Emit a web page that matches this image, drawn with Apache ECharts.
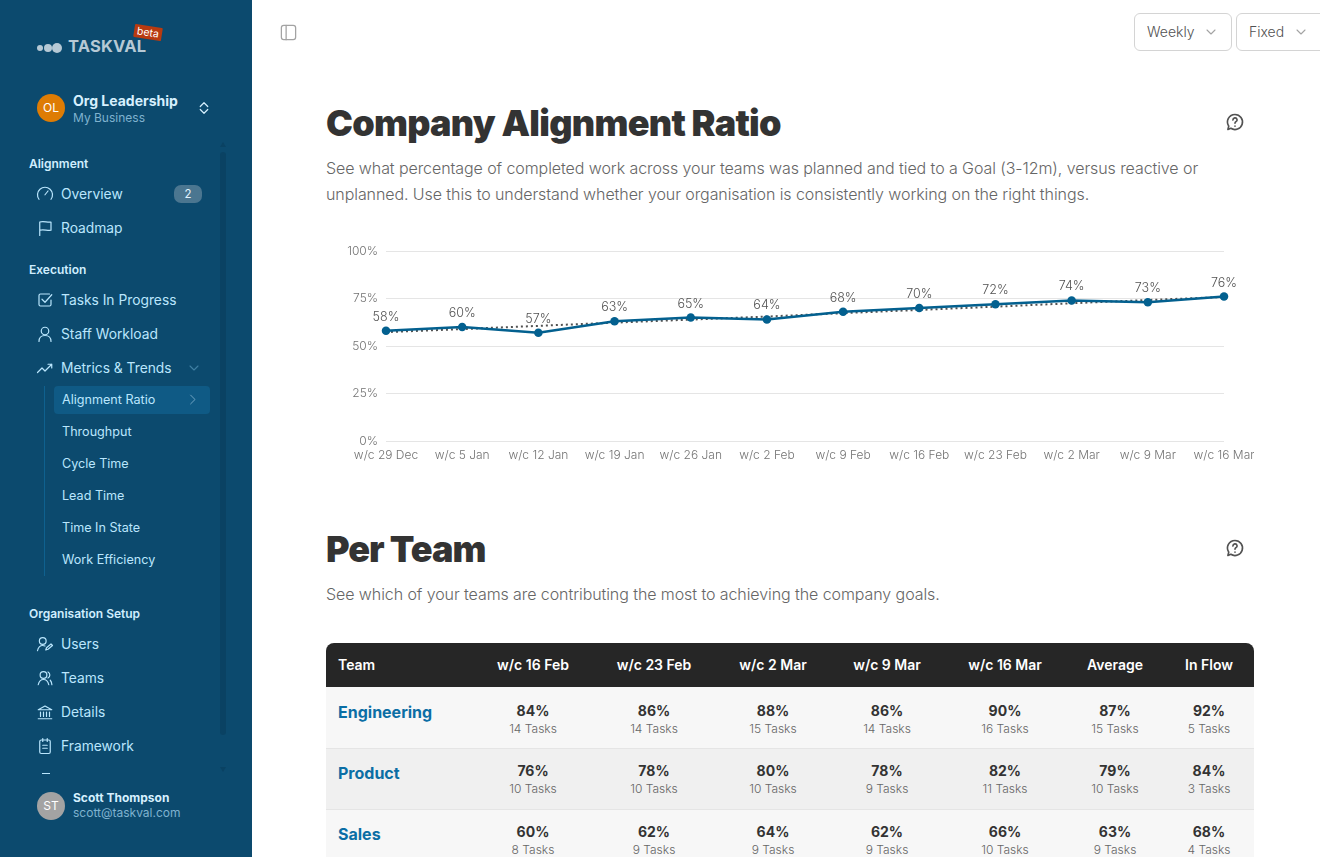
<!DOCTYPE html>
<html><head><meta charset="utf-8">
<script src="https://cdn.jsdelivr.net/npm/echarts@6/dist/echarts.min.js"></script>
<style>
html,body{margin:0;padding:0;width:1320px;height:857px;overflow:hidden;background:#fff;font-family:Inter,sans-serif;color:#262626}
.a{position:absolute;white-space:nowrap}
#side{position:absolute;left:0;top:0;width:252px;height:857px;background:#0c4a6e;overflow:hidden}
.ct{transform:translateX(-50%);text-align:center}
svg.i{position:absolute;fill:none;stroke:#bae6fd;stroke-width:1.6;stroke-linecap:round;stroke-linejoin:round}
.btn{position:absolute;top:13px;height:36px;border:1px solid #d4d4d4;border-radius:6px;background:#fff;font-size:14px;font-weight:300;color:#525252;line-height:36px;box-sizing:content-box}
</style></head><body>
<div id="side"></div>
<div id="main"></div>
<div id="chart" style="position:absolute;left:326px;top:235px;width:928px;height:235px"></div>
<script>
const weeks=['w/c 29 Dec','w/c 5 Jan','w/c 12 Jan','w/c 19 Jan','w/c 26 Jan','w/c 2 Feb','w/c 9 Feb','w/c 16 Feb','w/c 23 Feb','w/c 2 Mar','w/c 9 Mar','w/c 16 Mar'];
const ratio=[58,60,57,63,65,64,68,70,72,74,73,76];
const trend=[57.3,58.9,60.6,62.3,63.9,65.5,67.3,69,70.7,72.5,74.2,75.8];
const yTicks=[0,25,50,75,100];
const tableHead=['w/c 16 Feb','w/c 23 Feb','w/c 2 Mar','w/c 9 Mar','w/c 16 Mar','Average','In Flow'];
const engineering=[['84%','14 Tasks'],['86%','14 Tasks'],['88%','15 Tasks'],['86%','14 Tasks'],['90%','16 Tasks'],['87%','15 Tasks'],['92%','5 Tasks']];
const product=[['76%','10 Tasks'],['78%','10 Tasks'],['80%','10 Tasks'],['78%','9 Tasks'],['82%','11 Tasks'],['79%','10 Tasks'],['84%','3 Tasks']];
const sales=[['60%','8 Tasks'],['62%','9 Tasks'],['64%','9 Tasks'],['62%','9 Tasks'],['66%','10 Tasks'],['63%','9 Tasks'],['68%','4 Tasks']];
const colX=[533,654,773,887,1005,1115,1209];

function t(par,x,y,s,style,cls){const d=document.createElement('div');d.className='a '+(cls||'');d.style.cssText=`left:${x}px;top:${y}px;`+style;d.textContent=s;par.appendChild(d);return d}
function box(par,x,y,w,h,style){const d=document.createElement('div');d.className='a';d.style.cssText=`left:${x}px;top:${y}px;width:${w}px;height:${h}px;`+style;par.appendChild(d);return d}
function ic(par,x,y,inner,size,extra){const s=size||18;par.insertAdjacentHTML('beforeend',`<svg class="i" style="left:${x}px;top:${y}px;${extra||''}" width="${s}" height="${s}" viewBox="0 0 24 24">${inner}</svg>`)}

// Sidebar
const S=document.getElementById('side');
[[39.5,3],[47.5,4],[57,5]].forEach(c=>box(S,c[0]-c[1],47.5-c[1],c[1]*2,c[1]*2,'background:#b6c9d5;border-radius:50%'));
t(S,68,36,'TASKVAL','font-size:16.5px;font-weight:700;color:#b6c9d5;line-height:20px;letter-spacing:.2px');
t(S,134,26,'beta','font-size:10.5px;color:#fff;background:#b83a10;line-height:11px;padding:1px 3px;transform:rotate(9deg);border-radius:1px');
t(S,37,94,'OL','width:28px;height:28px;border-radius:50%;background:#de7c04;color:#fff;font-size:12px;line-height:28px;text-align:center');
t(S,73,92,'Org Leadership','font-size:14px;font-weight:700;color:#d6f0fe;line-height:17px');
t(S,73,110,'My Business','font-size:12px;color:#7fb2cf;line-height:15px');
const updown='<path d="M7 10l5-5 5 5M7 14l5 5 5-5"/>';
ic(S,195,99,updown,18,'stroke:#d6f0fe');
ic(S,195,797,updown,18,'stroke:#d6f0fe');
const heads=[['Alignment',156],['Execution',262],['Organisation Setup',606]];
heads.forEach(h=>t(S,29,h[1],h[0],'font-size:12px;font-weight:600;color:#d0eefe;line-height:16px'));
const icons={
 gauge:'<path d="M4 19a10 10 0 1 1 16 0"/><path d="M12 13l4-5"/>',
 flag:'<path d="M5 22V4c5-2 10 1 15 0v11c-5 1-10-2-15 0"/>',
 check:'<path d="M20 12v6a2 2 0 0 1-2 2H6a2 2 0 0 1-2-2V6a2 2 0 0 1 2-2h12"/><path d="M8 11l4 4 9-10"/>',
 user:'<circle cx="12" cy="8" r="5"/><path d="M4 22c0-5 3-8 8-8s8 3 8 8"/>',
 trend:'<path d="M2 18l6-6 4 4 9-9M16 7h5v5"/>',
 users:'<circle cx="9" cy="8" r="4.5"/><path d="M2 21c1-5 3-7 7-7 1 0 2 .2 3 .6"/><path d="M13 20l1-3 6-5 2 2-6 5z"/>',
 teams:'<circle cx="10" cy="8" r="4.5"/><path d="M3 21c1-5 3-7 7-7s6 2 7 7M16 4a4.500 4.500 0 0 1 0 8M19 15c1.500 1.500 2 3.500 2.200 6"/>',
 bank:'<path d="M3 9l9-5 9 5zM6 12v6M10 12v6M14 12v6M18 12v6M3 21h18"/>',
 clip:'<rect x="5" y="4" width="14" height="18" rx="2"/><path d="M9 2v4M15 2v4M9 11h6M9 15h6"/>'};
const items=[['Overview',194,'gauge'],['Roadmap',228,'flag'],['Tasks In Progress',300,'check'],['Staff Workload',334,'user'],['Metrics & Trends',368,'trend'],['Users',644,'users'],['Teams',678,'teams'],['Details',712,'bank'],['Framework',746,'clip']];
items.forEach(m=>{ic(S,36,m[1]-9,icons[m[2]],18);t(S,61,m[1]-10,m[0],'font-size:13.8px;color:#bae6fd;line-height:20px')});
box(S,174,185,28,18,'background:#4b7690;border-radius:7px');
t(S,188,186,'2','font-size:11.5px;color:#e0f2fe;line-height:16px','ct');
ic(S,186,360,'<path d="M6 9l6 6 6-6"/>',16,'stroke:#3f7fa3');
box(S,44,386,1,190,'background:#0f618f');
box(S,54,386,156,28,'background:#0f5a85;border-radius:4px');
const sub=[['Alignment Ratio',399],['Throughput',431],['Cycle Time',463],['Lead Time',495],['Time In State',527],['Work Efficiency',559]];
sub.forEach(m=>t(S,62,m[1]-8,m[0],'font-size:12.6px;color:#bae6fd;line-height:18px'));
ic(S,185,392,'<path d="M9 5l7 7-7 7"/>',15,'stroke:#6fa3c2');
box(S,220,152,6,583,'background:#0a4263;border-radius:3px');
S.insertAdjacentHTML('beforeend','<div class="a" style="left:220px;top:142px;border:3px solid transparent;border-bottom:5px solid #0a4263;border-top:0"></div><div class="a" style="left:220px;top:767px;border:3px solid transparent;border-top:5px solid #0a4263;border-bottom:0"></div>');
box(S,0,775,252,82,'background:#0c4a6e');
box(S,42,773,8,1,'background:#bae6fd');
t(S,37,792,'ST','width:28px;height:28px;border-radius:50%;background:#a3a3a3;color:#fff;font-size:12px;line-height:28px;text-align:center');
t(S,73,790,'Scott Thompson','font-size:12px;font-weight:700;color:#d6f0fe;line-height:16px');
t(S,73,805,'scott@taskval.com','font-size:12px;color:#7fb2cf;line-height:16px');

// Main
const M=document.getElementById('main');
ic(M,279,23,'<rect x="3" y="3" width="18" height="18" rx="3"/><path d="M9 3v18"/>',19,'stroke:#a3a3a3');
[['Weekly',1134,98,68],['Fixed',1236,90,56]].forEach(b=>{const d=document.createElement('div');d.className='btn';d.style.left=b[1]+'px';d.style.width=(b[2]-2)+'px';d.innerHTML=`<span style="position:absolute;left:12px">${b[0]}</span>`;M.appendChild(d);
 ic(d,b[3],10,'<path d="M6 9l6 6 6-6"/>',16,'stroke:#a3a3a3')});
const titleStyle='font-size:36px;font-weight:900;color:#333;line-height:44px;letter-spacing:-.72px';
t(M,326,101,'Company Alignment Ratio',titleStyle);
t(M,326,527,'Per Team',titleStyle+';letter-spacing:-1px');
const help='<path d="M12 3a9 9 0 1 1-5 16.500L3.500 21l1-4A9 9 0 0 1 12 3z"/><path d="M9.500 9.500a2.500 2.500 0 1 1 3.500 2.300c-.7.400-1 .9-1 1.700"/><path d="M12 17v.1"/>';
ic(M,1225,112,help,20,'stroke:#525252;stroke-width:2');
ic(M,1225,538,help,20,'stroke:#525252;stroke-width:2');
const para='font-size:16px;font-weight:300;color:#666;line-height:26px;letter-spacing:-.08px';
t(M,326,155,'See what percentage of completed work across your teams was planned and tied to a Goal (3-12m), versus reactive or',para);
t(M,326,181,'unplanned. Use this to understand whether your organisation is consistently working on the right things.',para);
t(M,326,581,'See which of your teams are contributing the most to achieving the company goals.',para);

// Table
box(M,326,643,928,44,'background:#262626;border-radius:8px 8px 0 0');
t(M,338,656,'Team','font-size:14px;font-weight:600;color:#fff;line-height:18px');
tableHead.forEach((h,i)=>t(M,colX[i],656,h,'font-size:14px;font-weight:600;color:#fff;line-height:18px','ct'));
[['Engineering',engineering,687,'#f7f7f7',687,61,1],['Product',product,748,'#f0f0f0',749,60,0],['Sales',sales,809,'#f7f7f7',810,60,0]].forEach(r=>{
 box(M,326,r[4],928,r[5],'background:'+r[3]+';border-bottom:1px solid #e5e5e5');
 t(M,338,r[2]+14,r[0],'font-size:16px;font-weight:700;color:#0b6ea5;line-height:22px');
 r[1].forEach((c,i)=>{
  t(M,colX[i],r[2]+14+r[6],c[0],'font-size:14px;font-weight:700;color:#333;line-height:18px','ct');
  t(M,colX[i],r[2]+33+r[6],c[1],'font-size:12px;font-weight:300;color:#666;line-height:16px','ct');
 });
});

// Chart
const chart=echarts.init(document.getElementById('chart'));
chart.setOption({
 animation:false,
 textStyle:{fontFamily:'Inter'},
 grid:{left:60,right:30,top:16,height:190,containLabel:false,outerBoundsMode:'none'},
 xAxis:{type:'category',data:weeks,boundaryGap:false,
  axisLine:{show:false},axisTick:{show:false},splitLine:{show:false},
  axisLabel:{interval:0,color:'#737373',fontSize:12,fontWeight:300,margin:8,hideOverlap:false,fontFamily:'Inter'}},
 yAxis:{type:'value',min:yTicks[0],max:yTicks[yTicks.length-1],interval:yTicks[1]-yTicks[0],
  axisLine:{show:false},axisTick:{show:false},
  splitLine:{lineStyle:{color:'#e5e5e5',width:1}},
  axisLabel:{color:'#737373',fontSize:12,fontWeight:300,margin:8,formatter:'{value}%',fontFamily:'Inter'}},
 series:[
  {name:'Trend',type:'line',data:trend,symbol:'none',silent:true,z:2,
   lineStyle:{color:'#525252',width:2,type:[2,3]}},
  {name:'Alignment Ratio',type:'line',data:ratio,symbol:'circle',symbolSize:8.5,z:3,
   itemStyle:{color:'#03608f'},lineStyle:{color:'#03608f',width:2.5},
   label:{show:true,position:'top',distance:3,formatter:p=>p.value+'%',color:'#525252',fontSize:12.5,fontWeight:300,fontFamily:'Inter'}}
 ]
});
</script></body></html>
